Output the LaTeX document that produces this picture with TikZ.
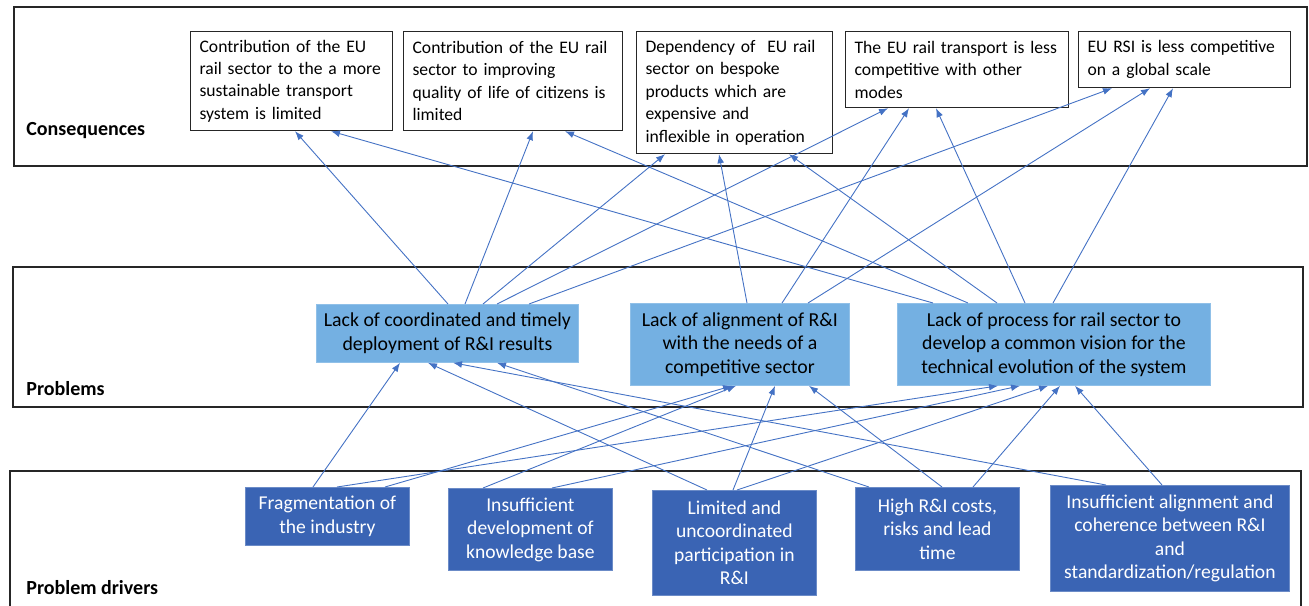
\documentclass[tikz,border=0pt]{standalone}
\usepackage{fontspec}
\setmainfont{Carlito}
\usetikzlibrary{positioning, arrows.meta}

\definecolor{problight}{RGB}{116,176,226}
\definecolor{driverblue}{RGB}{58,100,180}
\definecolor{linkblue}{RGB}{68,114,196}

\hyphenpenalty=10000
\exhyphenpenalty=10000

\tikzset{
  panel/.style={draw=black!85, line width=0.7pt},
  tag/.style={anchor=west, inner sep=0pt, font=\fontsize{10}{12}\selectfont\bfseries},
  cons/.style={draw=black!85, line width=0.6pt, fill=white, anchor=north west,
    inner xsep=4.5pt, align=left, font=\fontsize{8.8}{11.2}\selectfont},
  prob/.style={fill=problight, draw=problight!80!white, line width=0.4pt, anchor=north west,
    inner sep=0pt, align=center, font=\fontsize{9.9}{11.75}\selectfont},
  driver/.style={fill=driverblue, draw=driverblue!75!white, line width=0.4pt, text=white,
    anchor=north west, inner sep=0pt, align=center, font=\fontsize{9.8}{11.75}\selectfont},
  link/.style={draw=linkblue, line width=0.45pt, -{Latex[length=4.5pt,width=3.4pt]}}
}

\begin{document}
\begin{tikzpicture}[x=0.5pt, y=-0.5pt]
\useasboundingbox (0,0) rectangle (1309,605);

% the three panels
\draw[panel] (14,7) rectangle (1307,166);
\draw[panel] (13,267) rectangle (1303,407);
\draw[panel] (10,620) -- (10,471) -- (1301,471) -- (1301,620);

\node[tag] (lcons) at (26,131) {Consequences};
\node[tag] (lprob) at (26,389) {Problems};
\node[tag] (ldriv) at (26,588) {Problem drivers};

% consequences
\node[cons, text width=92pt, minimum height=49.5pt] (c1) at (190,31)
  {Contribution of the EU\\rail sector to the a more\\sustainable transport\\system is limited};
\node[cons, text width=100.5pt, minimum height=49.5pt] (c2) at (403,31)
  {Contribution of the EU rail\\sector to improving\\quality of life of citizens is\\limited};
\node[cons, text width=89pt, minimum height=61pt] (c3) at (636,31)
  {Dependency of\ \ EU rail\\sector on bespoke\\products which are\\expensive and\\inflexible in operation};
\node[cons, text width=102.5pt, minimum height=38pt] (c4) at (845,31)
  {The EU rail transport is less\\competitive with other\\modes};
\node[cons, text width=97pt, minimum height=28pt] (c5) at (1078,31)
  {EU RSI is less competitive\\on a global scale};

% problems
\node[prob, minimum width=131pt, minimum height=29pt] (p1) at (316,304)
  {Lack of coordinated and timely\\deployment of R\&I results};
\node[prob, minimum width=109.5pt, minimum height=41pt] (p2) at (630,303)
  {Lack of alignment of R\&I\\with the needs of a\\competitive sector};
\node[prob, minimum width=156.5pt, minimum height=41pt] (p3) at (897,303)
  {Lack of process for rail sector to\\develop a common vision for the\\technical evolution of the system};

% problem drivers
\node[driver, minimum width=82pt, minimum height=29pt] (d1) at (245,487)
  {Fragmentation of\\the industry};
\node[driver, minimum width=82pt, minimum height=41pt] (d2) at (448,488)
  {Insufficient\\development of\\knowledge base};
\node[driver, minimum width=82pt, minimum height=52.5pt] (d3) at (652,490)
  {Limited and\\uncoordinated\\participation in\\R\&I};
\node[driver, minimum width=82pt, minimum height=41.5pt] (d4) at (855,487)
  {High R\&I costs,\\risks and lead\\time};
\node[driver, minimum width=119.5pt, minimum height=53pt] (d5) at (1050,485)
  {Insufficient alignment and\\coherence between R\&I\\and\\standardization/regulation};

% problems -> consequences
\draw[link] (p1.north -| 448,0) -- (c1.south -| 295,0);
\draw[link] (p1.north -| 465,0) -- (c2.south -| 533,0);
\draw[link] (p1.north -| 483,0) -- (c3.south -| 665,0);
\draw[link] (p1.north -| 497,0) -- (c4.south -| 888,0);
\draw[link] (p1.north -| 529,0) -- (c5.south -| 1112,0);
\draw[link] (p2.north -| 747,0) -- (c3.south -| 719,0);
\draw[link] (p2.north -| 782,0) -- (c4.south -| 909,0);
\draw[link] (p2.north -| 808,0) -- (c5.south -| 1150,0);
\draw[link] (p3.north -| 933,0) -- (c1.south -| 331,0);
\draw[link] (p3.north -| 968,0) -- (c2.south -| 565,0);
\draw[link] (p3.north -| 997,0) -- (c3.south -| 789,0);
\draw[link] (p3.north -| 1025,0) -- (c4.south -| 936,0);
\draw[link] (p3.north -| 1053,0) -- (c5.south -| 1173,0);

% drivers -> problems
\draw[link] (d1.north -| 313,0) -- (p1.south -| 400,0);
\draw[link] (d1.north -| 337,0) -- (p3.south -| 998,0);
\draw[link] (d1.north -| 385,0) -- (p2.south -| 732,0);
\draw[link] (d2.north -| 483,0) -- (p2.south -| 736,0);
\draw[link] (d2.north -| 552,0) -- (p3.south -| 1020,0);
\draw[link] (d3.north -| 707,0) -- (p1.south -| 428,0);
\draw[link] (d3.north -| 733,0) -- (p2.south -| 775,0);
\draw[link] (d3.north -| 737,0) -- (p3.south -| 1048,0);
\draw[link] (d4.north -| 869,0) -- (p1.south -| 497,0);
\draw[link] (d4.north -| 942,0) -- (p2.south -| 809,0);
\draw[link] (d4.north -| 973,0) -- (p3.south -| 1060,0);
\draw[link] (d5.north -| 1106,0) -- (p1.south -| 453,0);
\draw[link] (d5.north -| 1162,0) -- (p3.south -| 1075,0);
\end{tikzpicture}
\end{document}
